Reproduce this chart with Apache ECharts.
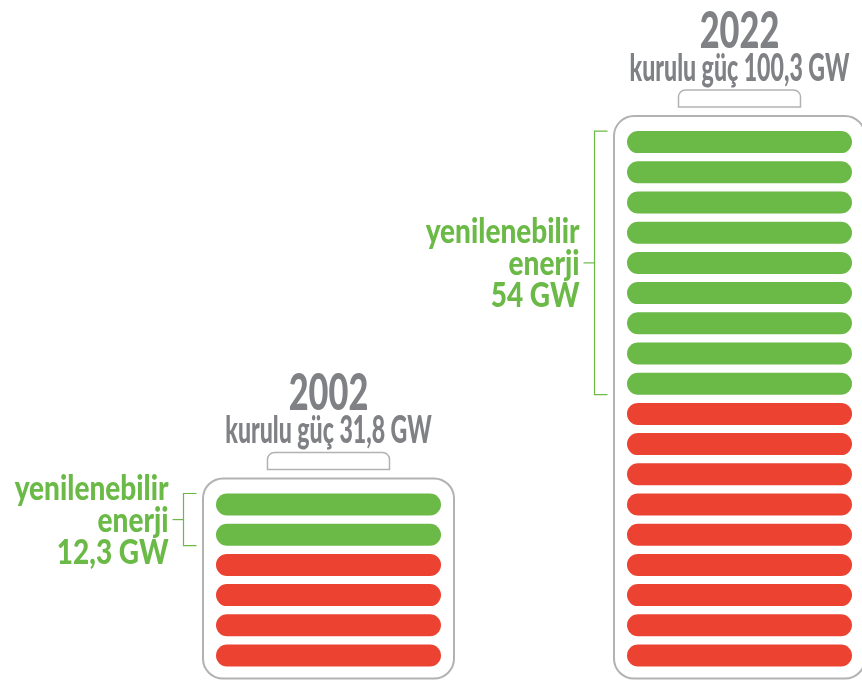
<!DOCTYPE html>
<html>
<head>
<meta charset="utf-8">
<script src="https://cdn.jsdelivr.net/npm/echarts@6/dist/echarts.min.js"></script>
<style>
  html, body { margin: 0; padding: 0; background: #fff; }
  #chart { width: 862px; height: 685px; }
</style>
</head>
<body>
<div id="chart"></div>
<script>
// data
const years = ['2002', '2022'];
const installedGW = [31.8, 100.3];
const renewableGW = [12.3, 54];
const renewableCells = [2, 9];
const otherCells = [4, 9];

const GREEN = '#6bba47';
const RED = '#ec4232';
const GRAY_TXT = '#7f8185';
const FRAME = '#b2b2b2';
const CELL_W = 225, CELL_H = 22;
const FONT = 'Lato';

const fmt = v => String(v).replace('.', ',');

// one item per cell: [yearIndex, slot (0 = bottom), isRenewable]
const cells = [];
years.forEach((y, i) => {
  for (let s = 0; s < otherCells[i]; s++) cells.push([i, s, 0]);
  for (let s = 0; s < renewableCells[i]; s++) cells.push([i, otherCells[i] + s, 1]);
});
const frames = years.map((y, i) => [i, otherCells[i] + renewableCells[i], otherCells[i]]);

function renderCell (params, api) {
  const c = api.coord([api.value(0), api.value(1) + 0.5]);
  return {
    type: 'rect',
    shape: { x: c[0] - CELL_W / 2, y: c[1] - CELL_H / 2, width: CELL_W, height: CELL_H, r: CELL_H / 2 },
    style: { fill: api.value(2) ? GREEN : RED }
  };
}

function txt (x, y, text, size, color, align, sx, lh) {
  return {
    type: 'text', x: x, y: y, scaleX: sx,
    style: {
      text: text, fill: color, fontFamily: FONT, fontWeight: 900,
      fontSize: size, lineHeight: lh || size, align: align, verticalAlign: 'middle'
    }
  };
}

function renderFrame (params, api) {
  const i = api.value(0), n = api.value(1), red = api.value(2);
  const bottom = api.coord([i, 0]);
  const top = api.coord([i, n]);
  const cx = bottom[0];
  const fTop = top[1] - 11, fBot = bottom[1] + 8;
  const fw = 251;
  // bracket around renewable cells
  const gTop = api.coord([i, n - 0.5])[1] - CELL_H / 2;
  const gBot = api.coord([i, red + 0.5])[1] + CELL_H / 2;
  const bx = cx - 145, gMid = (gTop + gBot) / 2;
  return {
    type: 'group',
    children: [
      { type: 'rect', shape: { x: cx - fw / 2, y: fTop, width: fw, height: fBot - fTop, r: 20 },
        style: { fill: null, stroke: FRAME, lineWidth: 2 } },
      { type: 'rect', shape: { x: cx - 61, y: fTop - 26, width: 122, height: 17, r: [7, 7, 0, 0] },
        style: { fill: null, stroke: FRAME, lineWidth: 1.5 } },
      txt(cx, fTop - 85, years[i], 52, GRAY_TXT, 'center', 0.66),
      txt(cx, fTop - 47, 'kurulu güç ' + fmt(installedGW[i]) + ' GW', 37, GRAY_TXT, 'center', 0.625),
      { type: 'polyline', shape: { points: [[bx + 13, gTop], [bx, gTop], [bx, gBot], [bx + 13, gBot]] },
        style: { fill: null, stroke: GREEN, lineWidth: 1.2 } },
      { type: 'line', shape: { x1: bx - 11, y1: gMid, x2: bx, y2: gMid },
        style: { stroke: GREEN, lineWidth: 1.2 } },
      txt(bx - 15, gMid + 1, 'yenilenebilir\nenerji\n' + fmt(renewableGW[i]) + ' GW', 35, GREEN, 'right', 0.8, 32)
    ]
  };
}

const chart = echarts.init(document.getElementById('chart'));
chart.setOption({
  animation: false,
  // category centres sit on the grid edges (boundaryGap false)
  grid: { left: 328.5, right: 122.5, bottom: 14.4, height: 604 },
  xAxis: { type: 'category', data: years, boundaryGap: false, show: false },
  yAxis: { type: 'value', min: 0, max: 20, show: false },
  series: [
    { type: 'custom', renderItem: renderFrame, data: frames, silent: true, clip: false },
    { type: 'custom', renderItem: renderCell, data: cells, clip: false }
  ]
});
</script>
</body>
</html>
